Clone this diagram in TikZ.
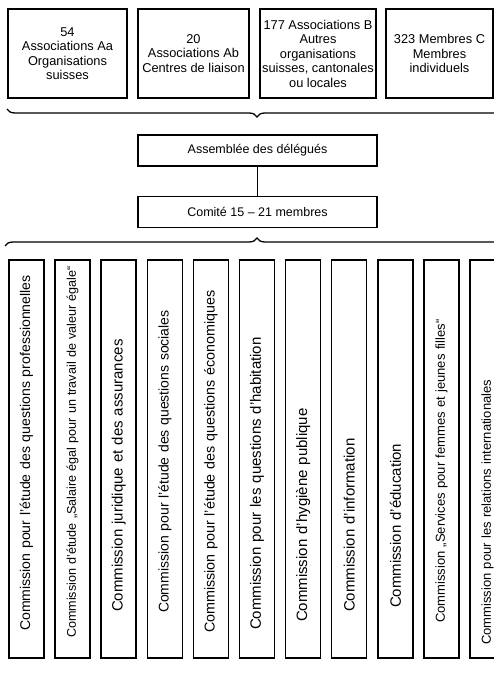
\documentclass[tikz,border=0pt]{standalone}
\usepackage{fontspec}
\setmainfont{Liberation Sans}
\usetikzlibrary{decorations.pathreplacing,positioning}

\begin{document}
\begin{tikzpicture}[x=1pt, y=1pt,
    topbox/.style={rectangle, draw, line width=1.5pt, minimum height=89pt, inner sep=1pt, align=center, font=\fontsize{12.8}{14.5}\selectfont},
    midbox/.style={rectangle, draw, line width=1.5pt, minimum width=239pt, minimum height=31pt, font=\fontsize{12.5}{14}\selectfont},
    combox/.style={rectangle, draw, line width=1.5pt, rotate=90, minimum width=398pt, minimum height=35pt, inner sep=0pt, text width=398pt, align=left},
    lift/.style 2 args={font=\fontsize{#1}{#1}\selectfont, execute at begin node=\hspace*{#2}},
    curly/.style={decorate, line width=1.3pt, decoration={brace, amplitude=8pt}}
]
    \useasboundingbox (0,0) rectangle (494,675);
    \clip (0,0) rectangle (494,675);

    % Members on top
    \node[topbox, minimum width=119pt] (aa) at (67.5,621.5) {54\\Associations Aa\\Organisations\\suisses};
    \node[topbox, minimum width=111pt] (ab) at (193.5,621.5) {20\\Associations Ab\\Centres de liaison};
    \node[topbox, minimum width=116pt] (b) at (318,621.5) {177 Associations B\\Autres\\organisations\\suisses, cantonales\\ou locales};
    \node[topbox, minimum width=107pt] (c) at (439.5,621.5) {323 Membres C\\Membres\\individuels};

    % Upper brace
    \coordinate (ubl) at (7,566);
    \coordinate (ubr) at (510,566);
    \draw[curly, decoration={mirror, aspect=0.497}] (ubl) -- (ubr);

    % Delegates and committee
    \node[midbox] (ass) at (257.5,524.5) {Assemblée des délégués};
    \node[midbox] (com) at (257.5,463) {Comité 15 – 21 membres};
    \draw[line width=1.5pt] (ass) -- (com);

    % Lower brace
    \coordinate (lbl) at (5,429);
    \coordinate (lbr) at (510,429);
    \draw[curly, decoration={aspect=0.499}] (lbl) -- (lbr);

    % Commissions
    \node[combox, lift={14.1pt}{27pt}] (k1) at (26.5,216) {Commission pour l’étude des questions professionnelles};
    \node[combox, lift={12.6pt}{20pt}] (k2) at (72.6,216) {Commission d’étude „Salaire égal pour un travail de valeur égale“};
    \node[combox, lift={15pt}{46pt}] (k3) at (118.7,216) {Commission juridique et des assurances};
    \node[combox, lift={14pt}{45pt}] (k4) at (164.8,216) {Commission pour l’étude des questions sociales};
    \node[combox, lift={14.3pt}{25pt}] (k5) at (210.9,216) {Commission pour l’étude des questions économiques};
    \node[combox, lift={15pt}{28pt}] (k6) at (257,216) {Commission pour les questions d’habitation};
    \node[combox, lift={15pt}{36pt}] (k7) at (303.1,216) {Commission d’hygiène publique};
    \node[combox, lift={15pt}{46pt}] (k8) at (349.2,216) {Commission d’information};
    \node[combox, lift={15pt}{50pt}] (k9) at (395.3,216) {Commission d’éducation};
    \node[combox, lift={13pt}{35pt}] (k10) at (441.4,216) {Commission „Services pour femmes et jeunes filles“};
    \node[combox, lift={13pt}{13pt}] (k11) at (487.5,216) {Commission pour les relations internationales};
\end{tikzpicture}
\end{document}
